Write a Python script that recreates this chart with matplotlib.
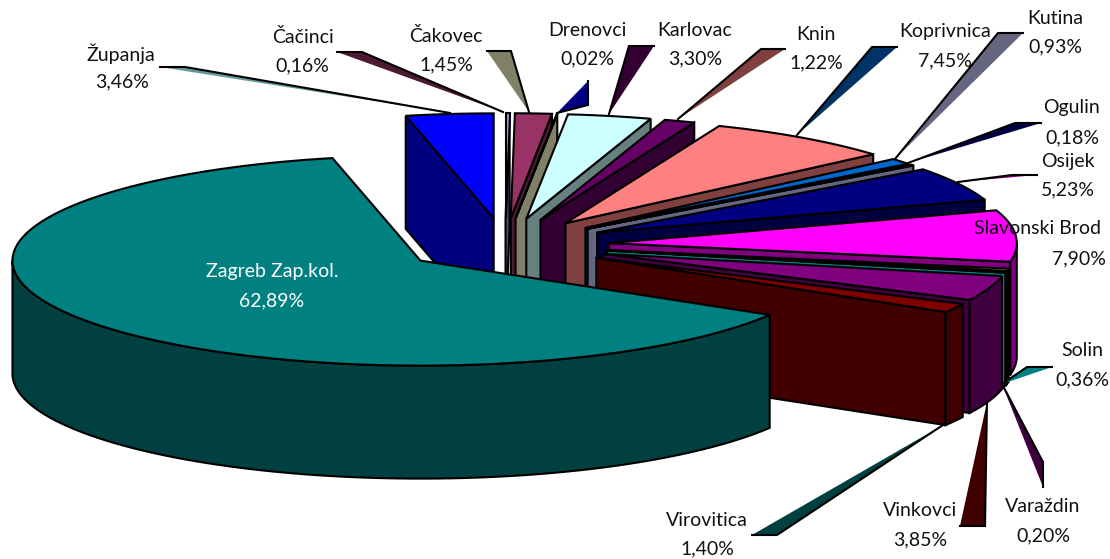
import numpy as np
import matplotlib
matplotlib.use("Agg")
import matplotlib.pyplot as plt
from matplotlib.patches import Polygon

plt.rcParams['font.family'] = ['Lato', 'DejaVu Sans']

# slices, clockwise from the top of the pie
names = ["Čačinci", "Čakovec", "Drenovci", "Karlovac", "Knin", "Koprivnica", "Kutina", "Ogulin",
         "Osijek", "Slavonski Brod", "Solin", "Varaždin", "Vinkovci", "Virovitica",
         "Zagreb Zap.kol.", "Županja"]
values = [0.16, 1.45, 0.02, 3.30, 1.22, 7.45, 0.93, 0.18, 5.23, 7.90, 0.36, 0.20, 3.85, 1.40, 62.89, 3.46]
colors = ["#9999FF", "#993366", "#FFFFCC", "#CCFFFF", "#660066", "#FF8080", "#0066CC", "#CCCCFF",
          "#000080", "#FF00FF", "#FFFF00", "#00FFFF", "#800080", "#800000", "#008080", "#0000FF"]

# label layout in pixels: x, y of name, x, y of value
label_pos = [(303, 37, 302, 66), (446, 36, 446, 65), (587, 30, 587, 59), (695, 30, 695, 59),
             (816, 34, 816, 63), (945, 32, 945, 61), (1055, 18, 1055, 47), (1072, 108, 1072, 138),
             (1068, 161, 1068, 190), (1037, 229, 1079, 259), (1082, 351, 1082, 380), (1043, 507, 1043, 536),
             (920, 510, 920, 540), (707, 520, 707, 549), (272, 272, 272, 301), (121, 54, 122, 82)]

# leader lines: at the slice, elbow, end (pixels) + fill
leaders = [((503, 112), (362, 52), (337, 52), "#4D1933"), ((529, 112), (511, 51), (487, 51), "#808066"),
           ((557, 113), (588, 105), (588, 81), "#000080"), ((609, 114), (629, 46), (654, 46), "#330033"),
           ((678, 119), (761, 49), (785, 49), "#804040"), ((797, 135), (872, 47), (897, 47), "#003366"),
           ((895, 159), (998, 33), (1023, 33), "#666680"), ((908, 163), (1015, 123), (1041, 123), "#000040"),
           ((958, 182), (1012, 175), (1037, 175), "#800080"), None,
           ((1002, 384), (1027, 367), (1052, 367), "#008080"),
           ((1002, 384), (1043, 462), (1043, 487), "#400040"), ((987, 402), (985, 526), (960, 526), "#400000"),
           ((943, 425), (777, 535), (752, 535), "#004040"), None, ((450, 113), (185, 67), (160, 67), "#669999")]

# pie geometry in pixels
cx, cy = 505, 245
rx, ry = 408, 105
depth = 113
explode = 0.255
lw = 1.5


def rim(t, ax0, ay0):
    t = np.radians(t)
    return np.column_stack([ax0 + rx * np.cos(t), ay0 - ry * np.sin(t)])


def darker(c):
    return tuple(v * 0.5 for v in matplotlib.colors.to_rgb(c))


fig = plt.figure(figsize=(11.1, 5.59), dpi=100)
ax = fig.add_axes([0, 0, 1, 1])
ax.set_xlim(0, 1110)
ax.set_ylim(559, 0)
ax.axis("off")

# angles of every slice
ends = 90 - 3.6 * np.cumsum(values)
starts = np.concatenate([[90], ends[:-1]])

# Županja sits at the back left, so it goes first, Zagreb in front goes last
order = [15] + list(range(15))
z = 1
for i in order:
    t0, t1 = starts[i], ends[i]
    mid = np.radians((t0 + t1) / 2)
    ax0 = cx + explode * rx * np.cos(mid)
    ay0 = cy - explode * ry * np.sin(mid)
    apex = np.array([ax0, ay0])
    down = np.array([0, depth])
    side = darker(colors[i])
    kw = dict(edgecolor="black", linewidth=lw, joinstyle="miter")

    # radial walls that face the viewer
    for t, visible in [(t0, np.cos(np.radians(t0)) < 0), (t1, np.cos(np.radians(t1)) > 0)]:
        if visible:
            p = rim(np.array([t]), ax0, ay0)[0]
            ax.add_patch(Polygon([apex, p, p + down, apex + down], facecolor=side, zorder=z, **kw))
            z += 1

    # outer wall, front half only
    hi, lo = min(t0, 0), max(t1, -180)
    if hi > lo:
        arc = rim(np.linspace(hi, lo, 80), ax0, ay0)
        ax.add_patch(Polygon(np.vstack([arc, (arc + down)[::-1]]), facecolor=side, zorder=z, **kw))
        z += 1

    # top
    arc = rim(np.linspace(t0, t1, 120), ax0, ay0)
    ax.add_patch(Polygon(np.vstack([apex, arc]), facecolor=colors[i], zorder=z, **kw))
    z += 1

for i in range(len(names)):
    if leaders[i] is not None:
        a, b, c, col = leaders[i]
        ax.add_patch(Polygon([a, b, c], facecolor=col, edgecolor="none", zorder=z))
        ax.plot([a[0], b[0], c[0]], [a[1], b[1], c[1]], color="black", lw=lw, zorder=z + 1,
                solid_joinstyle="miter")
    tc = "white" if names[i].startswith("Zagreb") else "#111111"
    x1, y1, x2, y2 = label_pos[i]
    ax.text(x1, y1, names[i], ha="center", va="center", fontsize=14, color=tc, zorder=z + 2)
    ax.text(x2, y2, f"{values[i]:.2f}%".replace(".", ","), ha="center", va="center",
            fontsize=14, color=tc, zorder=z + 2)

fig.savefig("out.png", dpi=100)
